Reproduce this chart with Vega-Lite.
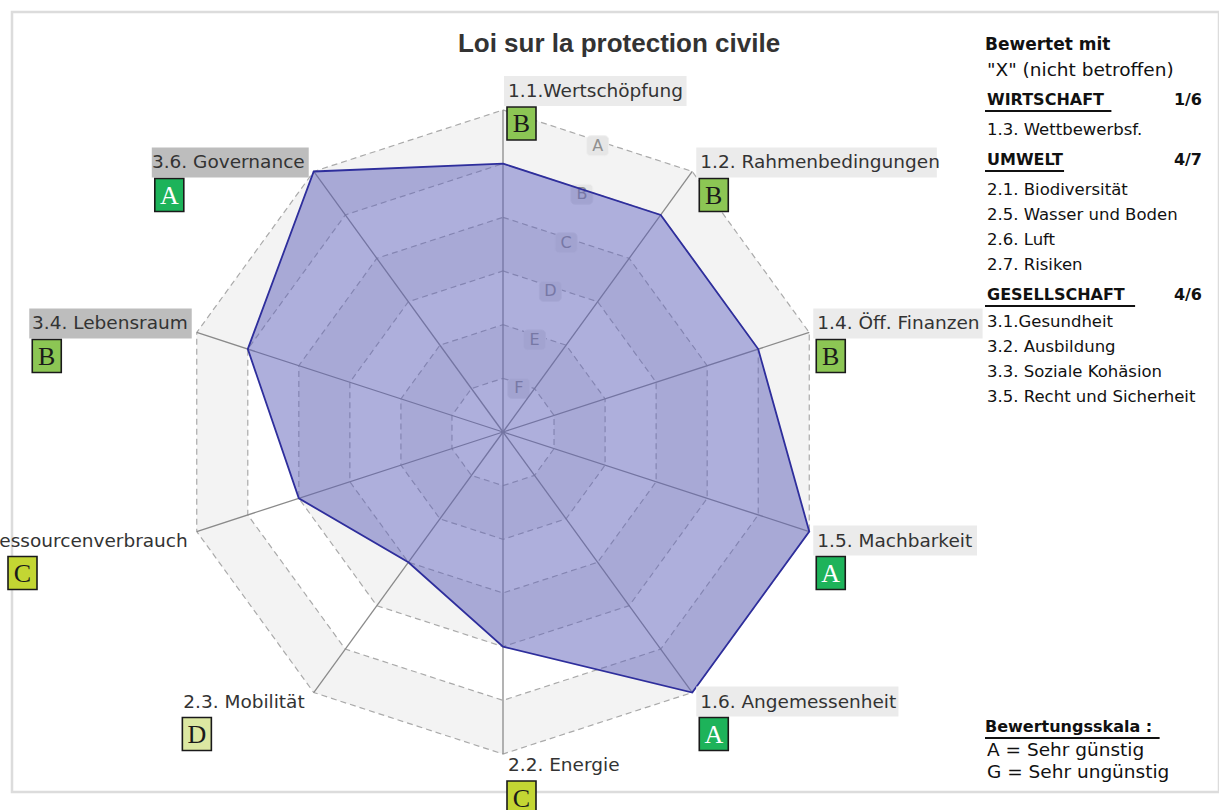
{
  "$schema": "https://vega.github.io/schema/vega-lite/v6.json",
  "width": 1207,
  "height": 780,
  "autosize": {"type": "none"},
  "padding": {"left": 12, "top": 12, "right": 0, "bottom": 18},
  "background": "#ffffff",
  "title": {
    "text": "Loi sur la protection civile",
    "font": "Liberation Sans",
    "fontSize": 26,
    "fontWeight": "bold",
    "color": "#333333",
    "anchor": "middle",
    "frame": "group",
    "dx": 3.5,
    "offset": -66,
    "baseline": "alphabetic"
  },
  "config": {
    "axis": {"disable": true},
    "view": {"stroke": "#dcdcdc", "strokeWidth": 2.5},
    "text": {"font": "DejaVu Sans"}
  },
  "datasets": {
    "achsen": [
      {"k": 0, "kriterium": "1.1.Wertschöpfung", "bereich": "Wirtschaft", "note": "B"},
      {"k": 1, "kriterium": "1.2. Rahmenbedingungen", "bereich": "Wirtschaft", "note": "B"},
      {"k": 2, "kriterium": "1.4. Öff. Finanzen", "bereich": "Wirtschaft", "note": "B"},
      {"k": 3, "kriterium": "1.5. Machbarkeit", "bereich": "Wirtschaft", "note": "A"},
      {"k": 4, "kriterium": "1.6. Angemessenheit", "bereich": "Wirtschaft", "note": "A"},
      {"k": 5, "kriterium": "2.2. Energie", "bereich": "Umwelt", "note": "C"},
      {"k": 6, "kriterium": "2.3. Mobilität", "bereich": "Umwelt", "note": "D"},
      {"k": 7, "kriterium": "2.4. Ressourcenverbrauch", "bereich": "Umwelt", "note": "C"},
      {"k": 8, "kriterium": "3.4. Lebensraum", "bereich": "Gesellschaft", "note": "B"},
      {"k": 9, "kriterium": "3.6. Governance", "bereich": "Gesellschaft", "note": "A"}
    ],
    "raster": [
      {"note": "A", "k": [0, 1, 2, 3, 4, 5, 6, 7, 8, 9]},
      {"note": "B", "k": [0, 1, 2, 3, 4, 5, 6, 7, 8, 9]},
      {"note": "C", "k": [0, 1, 2, 3, 4, 5, 6, 7, 8, 9]},
      {"note": "D", "k": [0, 1, 2, 3, 4, 5, 6, 7, 8, 9]},
      {"note": "E", "k": [0, 1, 2, 3, 4, 5, 6, 7, 8, 9]},
      {"note": "F", "k": [0, 1, 2, 3, 4, 5, 6, 7, 8, 9]}
    ],
    "baender": [
      {"band": "AB", "note": "A", "k": [0, 1, 2, 3, 4, 5, 6, 7, 8, 9, 10]},
      {"band": "AB", "note": "B", "k": [10, 9, 8, 7, 6, 5, 4, 3, 2, 1, 0]},
      {"band": "CD", "note": "C", "k": [0, 1, 2, 3, 4, 5, 6, 7, 8, 9, 10]},
      {"band": "CD", "note": "D", "k": [10, 9, 8, 7, 6, 5, 4, 3, 2, 1, 0]},
      {"band": "EF", "note": "E", "k": [0, 1, 2, 3, 4, 5, 6, 7, 8, 9, 10]},
      {"band": "EF", "note": "F", "k": [10, 9, 8, 7, 6, 5, 4, 3, 2, 1, 0]}
    ],
    "hinweise": [
      {"zeile": 0, "text": "Bewertet mit", "art": "kopf"},
      {"zeile": 1, "text": "\"X\" (nicht betroffen)", "art": "zusatz"},
      {"zeile": 2, "text": "WIRTSCHAFT", "art": "bereich", "anzahl": "1/6"},
      {"zeile": 3, "text": "1.3. Wettbewerbsf.", "art": "eintrag"},
      {"zeile": 4, "text": "UMWELT", "art": "bereich", "anzahl": "4/7"},
      {"zeile": 5, "text": "2.1. Biodiversität", "art": "eintrag"},
      {"zeile": 6, "text": "2.5. Wasser und Boden", "art": "eintrag"},
      {"zeile": 7, "text": "2.6. Luft", "art": "eintrag"},
      {"zeile": 8, "text": "2.7. Risiken", "art": "eintrag"},
      {"zeile": 9, "text": "GESELLSCHAFT", "art": "bereich", "anzahl": "4/6"},
      {"zeile": 10, "text": "3.1.Gesundheit", "art": "eintrag"},
      {"zeile": 11, "text": "3.2. Ausbildung", "art": "eintrag"},
      {"zeile": 12, "text": "3.3. Soziale Kohäsion", "art": "eintrag"},
      {"zeile": 13, "text": "3.5. Recht und Sicherheit", "art": "eintrag"}
    ],
    "skala": [
      {"zeile": 0, "text": "Bewertungsskala :", "art": "kopf"},
      {"zeile": 1, "text": "A = Sehr günstig", "art": "eintrag"},
      {"zeile": 2, "text": "G = Sehr ungünstig", "art": "eintrag"}
    ]
  },
  "layer": [
    {
      "data": {"name": "baender"},
      "transform": [
        {"flatten": ["k"]},
        {"window": [{"op": "row_number", "as": "i"}], "groupby": ["band"]},
        {"calculate": "indexof('GFEDCBA', datum.note)", "as": "score"},
        {"calculate": "datum.score * sin(datum.k * PI / 5)", "as": "x"},
        {"calculate": "datum.score * cos(datum.k * PI / 5)", "as": "y"}
      ],
      "mark": {"type": "line", "interpolate": "linear-closed", "fill": "#f3f3f3", "fillOpacity": 1, "strokeOpacity": 0, "strokeWidth": 0},
      "encoding": {
        "x": {"field": "x", "type": "quantitative", "scale": {"domain": [-9.1485, 13.3408], "nice": false, "zero": false}},
        "y": {"field": "y", "type": "quantitative", "scale": {"domain": [-6.7077, 7.8256], "nice": false, "zero": false}},
        "detail": {"field": "band", "type": "nominal"},
        "order": {"field": "i", "type": "quantitative"}
      }
    },
    {
      "data": {"name": "raster"},
      "transform": [
        {"flatten": ["k"]},
        {"calculate": "indexof('GFEDCBA', datum.note)", "as": "score"},
        {"calculate": "datum.score * sin(datum.k * PI / 5)", "as": "x"},
        {"calculate": "datum.score * cos(datum.k * PI / 5)", "as": "y"}
      ],
      "mark": {"type": "line", "interpolate": "linear-closed", "stroke": "#aaaaaa", "strokeWidth": 1.2, "strokeDash": [6, 4]},
      "encoding": {
        "x": {"field": "x", "type": "quantitative", "scale": {"domain": [-9.1485, 13.3408], "nice": false, "zero": false}},
        "y": {"field": "y", "type": "quantitative", "scale": {"domain": [-6.7077, 7.8256], "nice": false, "zero": false}},
        "detail": {"field": "note", "type": "nominal"},
        "order": {"field": "k", "type": "quantitative"}
      }
    },
    {
      "data": {"name": "raster"},
      "transform": [
        {"calculate": "indexof('GFEDCBA', datum.note)", "as": "score"},
        {"calculate": "datum.score * cos(PI / 10) * sin(PI / 10)", "as": "x"},
        {"calculate": "datum.score * cos(PI / 10) * cos(PI / 10) - 5 * 0.018633", "as": "y"},
        {"calculate": "datum.x - 11 * 0.018633", "as": "x1"},
        {"calculate": "datum.x + 11 * 0.018633", "as": "x2"},
        {"calculate": "datum.y - 10 * 0.018633", "as": "y1"},
        {"calculate": "datum.y + 10 * 0.018633", "as": "y2"}
      ],
      "layer": [
        {
          "mark": {"type": "rect", "fill": "#e6e6e6", "stroke": "#efefef", "strokeWidth": 1, "cornerRadius": 4},
          "encoding": {
            "x": {"field": "x1", "type": "quantitative", "scale": {"domain": [-9.1485, 13.3408], "nice": false, "zero": false}},
            "x2": {"field": "x2"},
            "y": {"field": "y1", "type": "quantitative", "scale": {"domain": [-6.7077, 7.8256], "nice": false, "zero": false}},
            "y2": {"field": "y2"}
          }
        },
        {
          "mark": {"type": "text", "fontSize": 16, "fill": "#909090", "align": "center", "baseline": "middle"},
          "encoding": {
            "x": {"field": "x", "type": "quantitative", "scale": {"domain": [-9.1485, 13.3408], "nice": false, "zero": false}},
            "y": {"field": "y", "type": "quantitative", "scale": {"domain": [-6.7077, 7.8256], "nice": false, "zero": false}},
            "text": {"field": "note", "type": "nominal"}
          }
        }
      ]
    },
    {
      "data": {"name": "achsen"},
      "transform": [
        {"calculate": "indexof('GFEDCBA', datum.note)", "as": "score"},
        {"calculate": "datum.k * PI / 5", "as": "ang"},
        {"calculate": "sin(datum.ang)", "as": "sx"},
        {"calculate": "cos(datum.ang)", "as": "cy"},
        {"calculate": "0", "as": "mitte"},
        {"calculate": "datum.score * datum.sx", "as": "wx"},
        {"calculate": "datum.score * datum.cy", "as": "wy"},
        {"calculate": "6 * datum.sx", "as": "ex"},
        {"calculate": "6 * datum.cy", "as": "ey"},
        {"calculate": "length(datum.kriterium)", "as": "n"},
        {"calculate": "datum.n - length(replace(datum.kriterium, regexp('[.il: ]', 'g'), ''))", "as": "nSchmal"},
        {"calculate": "datum.n - length(replace(datum.kriterium, regexp('[tfrj]', 'g'), ''))", "as": "nMittel"},
        {"calculate": "datum.n - length(replace(datum.kriterium, regexp('[mwMW]', 'g'), ''))", "as": "nBreit"},
        {"calculate": "0.3447 * (0.615 * datum.n - 0.315 * datum.nSchmal - 0.23 * datum.nMittel + 0.3 * datum.nBreit)", "as": "lw"},
        {"calculate": "datum.ex + (datum.k == 0 || datum.k == 5 ? 5 : datum.k < 5 ? 8 : -9) * 0.018633", "as": "tx"},
        {"calculate": "datum.k <= 5 ? datum.tx : datum.tx - datum.lw", "as": "tl"},
        {"calculate": "datum.ey - (datum.k == 0 ? -19 : datum.k == 5 ? 11 : datum.cy > 0 ? -9 : 9) * 0.018633", "as": "ty"},
        {"calculate": "datum.tl - 4 * 0.018633", "as": "bx1"},
        {"calculate": "datum.tl + datum.lw + 4 * 0.018633", "as": "bx2"},
        {"calculate": "datum.ty + 15 * 0.018633", "as": "by1"},
        {"calculate": "datum.ty - 15 * 0.018633", "as": "by2"},
        {"calculate": "max(datum.tl - 0.018633, -9.223)", "as": "rx1"},
        {"calculate": "datum.rx1 + 29 * 0.018633", "as": "rx2"},
        {"calculate": "datum.rx1 + 14.5 * 0.018633", "as": "rcx"},
        {"calculate": "datum.ty - 16 * 0.018633", "as": "ry1"},
        {"calculate": "datum.ty - 49 * 0.018633", "as": "ry2"},
        {"calculate": "datum.ty - 32.5 * 0.018633", "as": "rcy"}
      ],
      "resolve": {"scale": {"fill": "independent", "color": "independent"}},
      "layer": [
        {
          "mark": {"type": "rule", "stroke": "#8a8a8a", "strokeWidth": 1.3},
          "encoding": {
            "x": {"field": "mitte", "type": "quantitative", "scale": {"domain": [-9.1485, 13.3408], "nice": false, "zero": false}},
            "y": {"field": "mitte", "type": "quantitative", "scale": {"domain": [-6.7077, 7.8256], "nice": false, "zero": false}},
            "x2": {"field": "ex"},
            "y2": {"field": "ey"}
          }
        },
        {
          "mark": {"type": "line", "interpolate": "linear-closed", "fill": "#5d60ba", "fillOpacity": 0.5, "stroke": "#2e2e9c", "strokeWidth": 1.8},
          "encoding": {
            "x": {"field": "wx", "type": "quantitative", "scale": {"domain": [-9.1485, 13.3408], "nice": false, "zero": false}},
            "y": {"field": "wy", "type": "quantitative", "scale": {"domain": [-6.7077, 7.8256], "nice": false, "zero": false}},
            "order": {"field": "k", "type": "quantitative"}
          }
        },
        {
          "mark": {"type": "rect"},
          "encoding": {
            "x": {"field": "bx1", "type": "quantitative", "scale": {"domain": [-9.1485, 13.3408], "nice": false, "zero": false}},
            "x2": {"field": "bx2"},
            "y": {"field": "by1", "type": "quantitative", "scale": {"domain": [-6.7077, 7.8256], "nice": false, "zero": false}},
            "y2": {"field": "by2"},
            "fill": {"field": "bereich", "type": "nominal", "legend": null, "scale": {"domain": ["Wirtschaft", "Umwelt", "Gesellschaft"], "range": ["#ebebeb", "transparent", "#bdbdbd"]}}
          }
        },
        {
          "transform": [{"filter": "datum.k <= 5"}],
          "mark": {"type": "text", "fontSize": 18.5, "fill": "#333333", "align": "left", "baseline": "middle"},
          "encoding": {
            "x": {"field": "tx", "type": "quantitative", "scale": {"domain": [-9.1485, 13.3408], "nice": false, "zero": false}},
            "y": {"field": "ty", "type": "quantitative", "scale": {"domain": [-6.7077, 7.8256], "nice": false, "zero": false}},
            "text": {"field": "kriterium", "type": "nominal"}
          }
        },
        {
          "transform": [{"filter": "datum.k > 5"}],
          "mark": {"type": "text", "fontSize": 18.5, "fill": "#333333", "align": "right", "baseline": "middle"},
          "encoding": {
            "x": {"field": "tx", "type": "quantitative", "scale": {"domain": [-9.1485, 13.3408], "nice": false, "zero": false}},
            "y": {"field": "ty", "type": "quantitative", "scale": {"domain": [-6.7077, 7.8256], "nice": false, "zero": false}},
            "text": {"field": "kriterium", "type": "nominal"}
          }
        },
        {
          "mark": {"type": "rect", "stroke": "#1a1a1a", "strokeWidth": 1.6},
          "encoding": {
            "x": {"field": "rx1", "type": "quantitative", "scale": {"domain": [-9.1485, 13.3408], "nice": false, "zero": false}},
            "x2": {"field": "rx2"},
            "y": {"field": "ry1", "type": "quantitative", "scale": {"domain": [-6.7077, 7.8256], "nice": false, "zero": false}},
            "y2": {"field": "ry2"},
            "color": {"field": "note", "type": "nominal", "legend": null, "scale": {"domain": ["A", "B", "C", "D", "E", "F", "G"], "range": ["#1db35a", "#8cc654", "#c3d633", "#dce8a2", "#f5e27a", "#f4a259", "#e2483d"]}}
          }
        },
        {
          "mark": {"type": "text", "font": "Liberation Serif", "fontSize": 26, "align": "center", "baseline": "middle", "dy": 1},
          "encoding": {
            "x": {"field": "rcx", "type": "quantitative", "scale": {"domain": [-9.1485, 13.3408], "nice": false, "zero": false}},
            "y": {"field": "rcy", "type": "quantitative", "scale": {"domain": [-6.7077, 7.8256], "nice": false, "zero": false}},
            "text": {"field": "note", "type": "nominal"},
            "fill": {"condition": {"test": "datum.note == 'A'", "value": "#ffffff"}, "value": "#1a1a1a"}
          }
        }
      ]
    },
    {
      "data": {"name": "hinweise"},
      "transform": [
        {"calculate": "7.2107 - (25 * datum.zeile + 5 * clamp(datum.zeile - 1, 0, 4) + (datum.zeile >= 9 ? 5 : 0) + (datum.zeile >= 10 ? 2 : 0)) * 0.018633", "as": "y"},
        {"calculate": "datum.y - 11 * 0.018633", "as": "uy"},
        {"calculate": "8.981", "as": "ux1"},
        {"calculate": "8.981 + (length(datum.text) * 11.84 + 8) * 0.018633", "as": "ux2"},
        {"calculate": "9.018", "as": "xl"},
        {"calculate": "13.024", "as": "xr"}
      ],
      "layer": [
        {
          "transform": [{"filter": "datum.art == 'kopf'"}],
          "mark": {"type": "text", "fontSize": 17, "fontWeight": "bold", "fill": "#111111", "align": "left", "baseline": "middle"},
          "encoding": {
            "x": {"field": "ux1", "type": "quantitative", "scale": {"domain": [-9.1485, 13.3408], "nice": false, "zero": false}},
            "y": {"field": "y", "type": "quantitative", "scale": {"domain": [-6.7077, 7.8256], "nice": false, "zero": false}},
            "text": {"field": "text", "type": "nominal"}
          }
        },
        {
          "transform": [{"filter": "datum.art == 'zusatz'"}],
          "mark": {"type": "text", "fontSize": 18.5, "fill": "#111111", "align": "left", "baseline": "middle"},
          "encoding": {
            "x": {"field": "xl", "type": "quantitative", "scale": {"domain": [-9.1485, 13.3408], "nice": false, "zero": false}},
            "y": {"field": "y", "type": "quantitative", "scale": {"domain": [-6.7077, 7.8256], "nice": false, "zero": false}},
            "text": {"field": "text", "type": "nominal"}
          }
        },
        {
          "transform": [{"filter": "datum.art == 'bereich'"}],
          "mark": {"type": "text", "fontSize": 16, "fontWeight": "bold", "fill": "#111111", "align": "left", "baseline": "middle"},
          "encoding": {
            "x": {"field": "xl", "type": "quantitative", "scale": {"domain": [-9.1485, 13.3408], "nice": false, "zero": false}},
            "y": {"field": "y", "type": "quantitative", "scale": {"domain": [-6.7077, 7.8256], "nice": false, "zero": false}},
            "text": {"field": "text", "type": "nominal"}
          }
        },
        {
          "transform": [{"filter": "datum.art == 'bereich'"}],
          "mark": {"type": "text", "fontSize": 16, "fontWeight": "bold", "fill": "#111111", "align": "right", "baseline": "middle"},
          "encoding": {
            "x": {"field": "xr", "type": "quantitative", "scale": {"domain": [-9.1485, 13.3408], "nice": false, "zero": false}},
            "y": {"field": "y", "type": "quantitative", "scale": {"domain": [-6.7077, 7.8256], "nice": false, "zero": false}},
            "text": {"field": "anzahl", "type": "nominal"}
          }
        },
        {
          "transform": [{"filter": "datum.art == 'bereich'"}],
          "mark": {"type": "rule", "stroke": "#111111", "strokeWidth": 2},
          "encoding": {
            "x": {"field": "ux1", "type": "quantitative", "scale": {"domain": [-9.1485, 13.3408], "nice": false, "zero": false}},
            "x2": {"field": "ux2"},
            "y": {"field": "uy", "type": "quantitative", "scale": {"domain": [-6.7077, 7.8256], "nice": false, "zero": false}}
          }
        },
        {
          "transform": [{"filter": "datum.art == 'eintrag'"}],
          "mark": {"type": "text", "fontSize": 16.5, "fill": "#111111", "align": "left", "baseline": "middle"},
          "encoding": {
            "x": {"field": "xl", "type": "quantitative", "scale": {"domain": [-9.1485, 13.3408], "nice": false, "zero": false}},
            "y": {"field": "y", "type": "quantitative", "scale": {"domain": [-6.7077, 7.8256], "nice": false, "zero": false}},
            "text": {"field": "text", "type": "nominal"}
          }
        }
      ]
    },
    {
      "data": {"name": "skala"},
      "transform": [
        {"calculate": "-5.4966 - datum.zeile * 22.5 * 0.018633", "as": "y"},
        {"calculate": "datum.y - 11 * 0.018633", "as": "uy"},
        {"calculate": "8.981", "as": "ux1"},
        {"calculate": "8.981 + (length(datum.text) * 9.8 + 8) * 0.018633", "as": "ux2"},
        {"calculate": "9.018", "as": "xl"}
      ],
      "layer": [
        {
          "transform": [{"filter": "datum.art == 'kopf'"}],
          "mark": {"type": "text", "fontSize": 16, "fontWeight": "bold", "fill": "#111111", "align": "left", "baseline": "middle"},
          "encoding": {
            "x": {"field": "ux1", "type": "quantitative", "scale": {"domain": [-9.1485, 13.3408], "nice": false, "zero": false}},
            "y": {"field": "y", "type": "quantitative", "scale": {"domain": [-6.7077, 7.8256], "nice": false, "zero": false}},
            "text": {"field": "text", "type": "nominal"}
          }
        },
        {
          "transform": [{"filter": "datum.art == 'kopf'"}],
          "mark": {"type": "rule", "stroke": "#111111", "strokeWidth": 2},
          "encoding": {
            "x": {"field": "ux1", "type": "quantitative", "scale": {"domain": [-9.1485, 13.3408], "nice": false, "zero": false}},
            "x2": {"field": "ux2"},
            "y": {"field": "uy", "type": "quantitative", "scale": {"domain": [-6.7077, 7.8256], "nice": false, "zero": false}}
          }
        },
        {
          "transform": [{"filter": "datum.art == 'eintrag'"}],
          "mark": {"type": "text", "fontSize": 18.5, "fill": "#111111", "align": "left", "baseline": "middle"},
          "encoding": {
            "x": {"field": "xl", "type": "quantitative", "scale": {"domain": [-9.1485, 13.3408], "nice": false, "zero": false}},
            "y": {"field": "y", "type": "quantitative", "scale": {"domain": [-6.7077, 7.8256], "nice": false, "zero": false}},
            "text": {"field": "text", "type": "nominal"}
          }
        }
      ]
    }
  ]
}
